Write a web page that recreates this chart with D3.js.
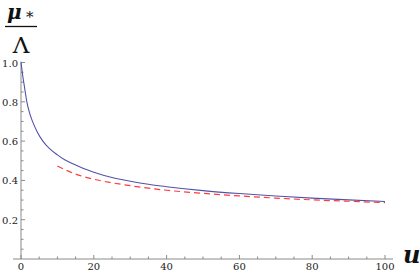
<!DOCTYPE html>
<html><head><meta charset="utf-8">
<script src="https://cdn.jsdelivr.net/npm/d3@7"></script>
<style>body{margin:0;background:#fff}svg{display:block}.sf{font-family:"DejaVu Serif","Liberation Serif",serif}</style>
</head><body><svg id="c" width="420" height="273"></svg>
<script>
const blueU = [0,0.5,1,1.6,2.5,3.5,4.5,6,8,10,12,14.4,17,20,25,30,35,40,50,60,70,80,90,100];
const blueV = [1.0,0.93,0.87,0.8,0.735,0.685,0.645,0.6,0.559,0.53,0.505,0.483,0.462,0.442,0.415,0.396,0.38,0.368,0.348,0.333,0.321,0.31,0.301,0.293];
const redU = [10,15,20,25,30,40,50,60,70,80,90,100];
const redV = [0.473,0.432,0.406,0.388,0.373,0.350,0.334,0.321,0.310,0.301,0.294,0.287];
const xMajor = [0,20,40,60,80,100];
const yMajor = [0.2,0.4,0.6,0.8,1.0];
const xLabels = ["0","20","40","60","80","100"];
const yLabels = ["0.2","0.4","0.6","0.8","1.0"];

const svg = d3.select("#c");
const x = d3.scaleLinear().domain([0,100]).range([21,385]);
const y = d3.scaleLinear().domain([0,1]).range([259,62.5]);
const axisColor = "#8a8a8a";

svg.append("line").attr("x1",13).attr("x2",393).attr("y1",y(0)).attr("y2",y(0))
  .attr("stroke",axisColor).attr("stroke-width",1);
svg.append("line").attr("x1",x(0)).attr("x2",x(0)).attr("y1",y(0)).attr("y2",y(1)-1)
  .attr("stroke",axisColor).attr("stroke-width",1);

const xMinor = d3.range(5,101,5).filter(v=>v%20!==0);
svg.selectAll(".xt").data(xMajor).join("line")
  .attr("x1",d=>x(d)).attr("x2",d=>x(d)).attr("y1",y(0)).attr("y2",y(0)-4)
  .attr("stroke",axisColor);
svg.selectAll(".xm").data(xMinor).join("line")
  .attr("x1",d=>x(d)).attr("x2",d=>x(d)).attr("y1",y(0)).attr("y2",y(0)-2.5)
  .attr("stroke",axisColor);
svg.selectAll(".xl").data(xMajor).join("text").attr("class","sf")
  .attr("x",d=>x(d)).attr("y",270).attr("text-anchor","middle")
  .attr("font-size",10).attr("fill","#222")
  .text((d,i)=>xLabels[i]);

const yMinor = d3.range(1,20).map(i=>i*0.05).filter(v=>Math.abs(v*5-Math.round(v*5))>1e-6);
svg.selectAll(".yt").data(yMajor).join("line")
  .attr("x1",x(0)).attr("x2",x(0)+4).attr("y1",d=>y(d)).attr("y2",d=>y(d))
  .attr("stroke",axisColor);
svg.selectAll(".ym").data(yMinor).join("line")
  .attr("x1",x(0)).attr("x2",x(0)+2.5).attr("y1",d=>y(d)).attr("y2",d=>y(d))
  .attr("stroke",axisColor);
svg.selectAll(".yl").data(yMajor).join("text").attr("class","sf")
  .attr("x",18).attr("y",d=>y(d)+4).attr("text-anchor","end")
  .attr("font-size",10).attr("fill","#222")
  .text((d,i)=>yLabels[i]);

const line = d3.line().x(d=>x(d[0])).y(d=>y(d[1])).curve(d3.curveMonotoneX);
svg.append("path").attr("d",line(blueU.map((u,i)=>[u,blueV[i]])))
  .attr("fill","none").attr("stroke","#5252aa").attr("stroke-width",1.1);
svg.append("path").attr("d",line(redU.map((u,i)=>[u,redV[i]])))
  .attr("fill","none").attr("stroke","#ff3c3c").attr("stroke-width",1.2)
  .attr("stroke-dasharray","6,4");

const lab = svg.append("g").attr("class","sf").attr("fill","#111");
lab.append("text").attr("x",7).attr("y",19).attr("font-size",20)
  .attr("font-style","italic").attr("font-weight","bold").text("μ");
lab.append("text").attr("x",26).attr("y",22).attr("font-size",15).text("*");
svg.append("line").attr("x1",5).attr("x2",37).attr("y1",26.5).attr("y2",26.5)
  .attr("stroke","#111").attr("stroke-width",1.3);
lab.append("text").attr("x",21).attr("y",53).attr("font-size",23)
  .attr("text-anchor","middle").text("Λ");

svg.append("text").attr("class","sf").attr("x",403).attr("y",263)
  .attr("font-size",24).attr("font-style","italic").attr("font-weight","bold")
  .attr("fill","#111").text("u");
</script></body></html>
